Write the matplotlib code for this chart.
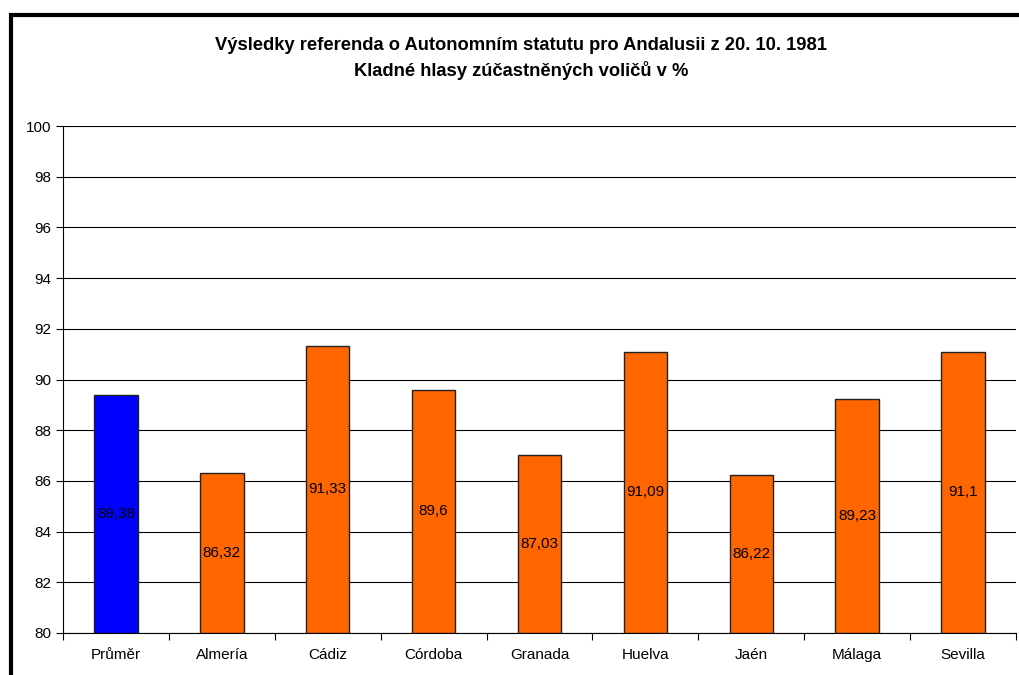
import numpy as np
import matplotlib.pyplot as plt
from matplotlib.patches import Rectangle

plt.rcParams['font.family'] = ['Liberation Sans', 'DejaVu Sans']

# data
kategorie = ["Průměr", "Almería", "Cádiz", "Córdoba", "Granada", "Huelva", "Jaén", "Málaga", "Sevilla"]
hodnoty = [89.38, 86.32, 91.33, 89.6, 87.03, 91.09, 86.22, 89.23, 91.1]
popisky = ["89,38", "86,32", "91,33", "89,6", "87,03", "91,09", "86,22", "89,23", "91,1"]
barvy = ["#0000FF"] + ["#FF6600"] * 8

fig = plt.figure(figsize=(10.19, 6.75), dpi=100)
ax = fig.add_axes([63 / 1019, 1 - 633 / 675, (1016 - 63) / 1019, (633 - 126) / 675])

x = np.arange(len(kategorie))
ax.bar(x, [h - 80 for h in hodnoty], bottom=80, width=0.41, color=barvy,
       edgecolor="#222222", linewidth=1.0, zorder=3)

# popisky uprostred sloupcu
for xi, h, p in zip(x, hodnoty, popisky):
    ax.text(xi, (80 + h) / 2, p, ha="center", va="center", fontsize=11, zorder=4)

ax.set_xlim(-0.5, len(kategorie) - 0.5)
ax.set_ylim(80, 100)
ax.set_yticks(np.arange(80, 101, 2))
ax.set_xticks(x)
ax.set_xticklabels(kategorie, fontsize=11)
ax.set_xticks(np.arange(-0.5, len(kategorie), 1), minor=True)
ax.tick_params(axis="x", which="major", length=0, pad=11)
ax.tick_params(axis="x", which="minor", length=5, direction="out", width=0.8)
ax.tick_params(axis="y", length=5, direction="out", width=0.8, labelsize=11)
ax.yaxis.grid(True, color="black", linewidth=0.8, zorder=0)
ax.set_axisbelow(True)
for s in ["top", "right"]:
    ax.spines[s].set_visible(False)
ax.spines["left"].set_linewidth(0.8)
ax.spines["bottom"].set_linewidth(0.8)

fig.text(521 / 1019, 1 - 45 / 675, "Výsledky referenda o Autonomním statutu pro Andalusii z 20. 10. 1981",
         ha="center", va="center", fontsize=13.2, fontweight="bold")
fig.text(521 / 1019, 1 - 70 / 675, "Kladné hlasy zúčastněných voličů v %",
         ha="center", va="center", fontsize=13.2, fontweight="bold")

# ramecek grafu
fig.patches.append(Rectangle((11 / 1019, -0.1), 1.2, 1 - 15 / 675 + 0.1, transform=fig.transFigure,
                             fill=False, edgecolor="black", linewidth=3))

fig.savefig("out.png", dpi=100)
